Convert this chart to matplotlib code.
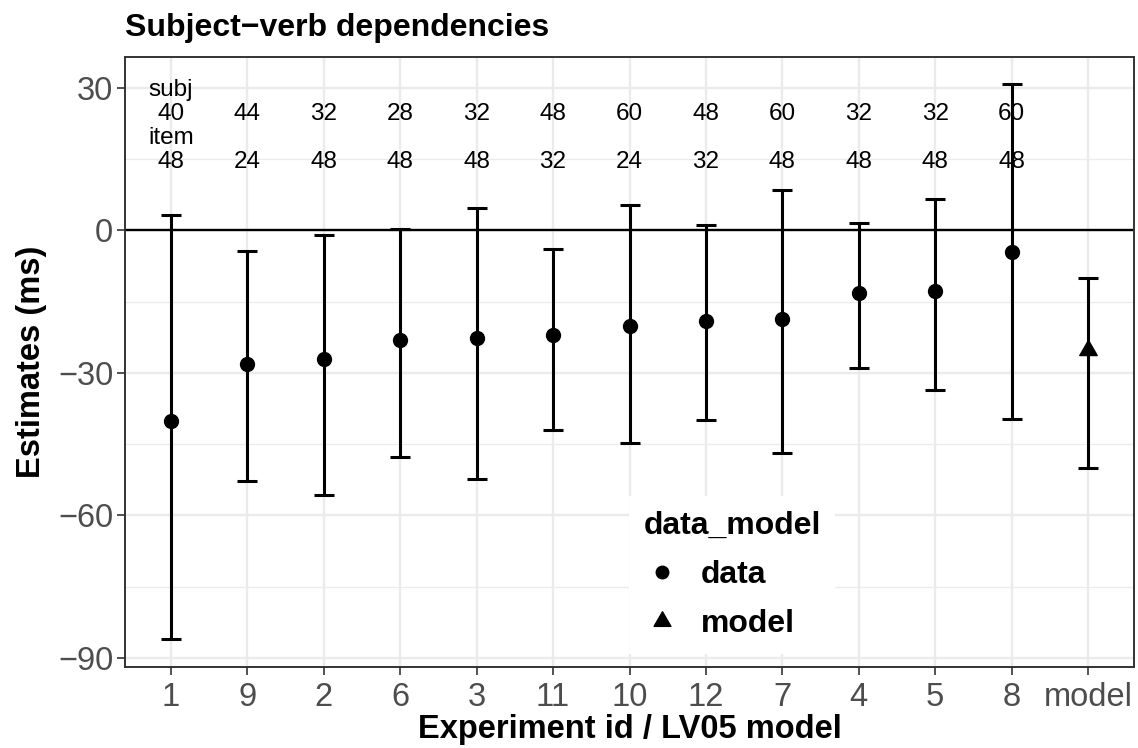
import matplotlib
matplotlib.use('Agg')
import matplotlib.pyplot as plt
from matplotlib.path import Path
from matplotlib.lines import Line2D

# experiments in plotting order, plus the LV05 model prediction
exp_ids = ['1', '9', '2', '6', '3', '11', '10', '12', '7', '4', '5', '8', 'model']
estimates = [-40.1, -28.1, -27.0, -23.1, -22.6, -22.0, -20.2, -19.1, -18.7, -13.1, -12.7, -4.5, -25.1]
lower = [-86.0, -52.7, -55.6, -47.8, -52.3, -42.0, -44.8, -40.0, -46.8, -29.0, -33.6, -39.8, -50.0]
upper = [3.2, -4.3, -1.0, 0.4, 4.7, -4.0, 5.4, 1.1, 8.6, 1.5, 6.7, 30.9, -10.1]
kind = ['data'] * 12 + ['model']

# number of subjects / items per experiment
n_subj = [40, 44, 32, 28, 32, 48, 60, 48, 60, 32, 32, 60]
n_item = [48, 24, 48, 48, 48, 32, 24, 32, 48, 48, 48, 48]

plt.rcParams['font.family'] = ['Liberation Sans', 'DejaVu Sans']

# equilateral triangle centred like R's pch 17
tri = Path([(0, 1), (-0.866, -0.5), (0.866, -0.5), (0, 1)],
           [Path.MOVETO, Path.LINETO, Path.LINETO, Path.CLOSEPOLY])

fig = plt.figure(figsize=(11.38, 7.48), dpi=100)
ax = fig.add_axes([125/1138, 1 - 667/748, 1009/1138, 610/748])

xs = list(range(len(exp_ids)))

# grid
for y in [-90, -60, -30, 0, 30]:
    ax.axhline(y, color='#EBEBEB', lw=1.7, zorder=0)
for y in [-75, -45, -15, 15]:
    ax.axhline(y, color='#EBEBEB', lw=0.9, zorder=0)
for x in xs:
    ax.axvline(x, color='#EBEBEB', lw=1.7, zorder=0)

ax.axhline(0, color='black', lw=1.7, zorder=1)

for i in xs:
    ax.errorbar(xs[i], estimates[i],
                yerr=[[estimates[i] - lower[i]], [upper[i] - estimates[i]]],
                fmt='none', ecolor='black', elinewidth=2.2, capsize=7,
                capthick=2.2, zorder=2)
    if kind[i] == 'data':
        ax.plot(xs[i], estimates[i], marker='o', ms=10, color='black',
                linestyle='none', zorder=3)
    else:
        ax.plot(xs[i], estimates[i], marker=tri, ms=14.5, color='black',
                linestyle='none', zorder=3)

# subject / item counts above each experiment
ax.text(xs[0], 29.6, 'subj', ha='center', va='center', fontsize=17.5)
ax.text(xs[0], 19.4, 'item', ha='center', va='center', fontsize=17.5)
for i in range(len(n_subj)):
    ax.text(xs[i], 24.6, str(n_subj[i]), ha='center', va='center', fontsize=17.5, zorder=1.5)
    ax.text(xs[i], 14.3, str(n_item[i]), ha='center', va='center', fontsize=17.5, zorder=1.5)

ax.set_xlim(-0.6, len(exp_ids) - 0.4)
ax.set_ylim(-91.9, 36.5)
ax.set_xticks(xs)
ax.set_xticklabels(exp_ids)
ax.set_yticks([-90, -60, -30, 0, 30])

for s in ax.spines.values():
    s.set_color('#333333')
    s.set_linewidth(1.4)
ax.tick_params(length=5.5, width=1.2, color='#333333', labelcolor='#4D4D4D',
               labelsize=23.5, pad=3)
ax.tick_params(axis='x', pad=5)

ax.set_xlabel('Experiment id / LV05 model', fontsize=23.5, fontweight='bold', labelpad=1)
ax.set_ylabel('Estimates (ms)', fontsize=23.5, fontweight='bold', labelpad=8)
fig.text(125/1138, 1 - 36/748, 'Subject\u2212verb dependencies', fontsize=23,
         fontweight='bold', ha='left', va='baseline')

handles = [
    Line2D([], [], marker='o', ms=9, color='black', linestyle='none'),
    Line2D([], [], marker=tri, ms=14, color='black', linestyle='none'),
]
leg = ax.legend(handles, ['data', 'model'], title='data_model',
                loc='center', bbox_to_anchor=(0.6016, 0.1508),
                frameon=True, fancybox=False, edgecolor='none', framealpha=1,
                prop={'size': 23, 'weight': 'bold'},
                title_fontproperties={'size': 23, 'weight': 'bold'},
                handletextpad=0.6, labelspacing=0.6, borderpad=0.45,
                alignment='left', handlelength=1.2)
leg.set_zorder(5)

plt.savefig('out.png', dpi=100)
